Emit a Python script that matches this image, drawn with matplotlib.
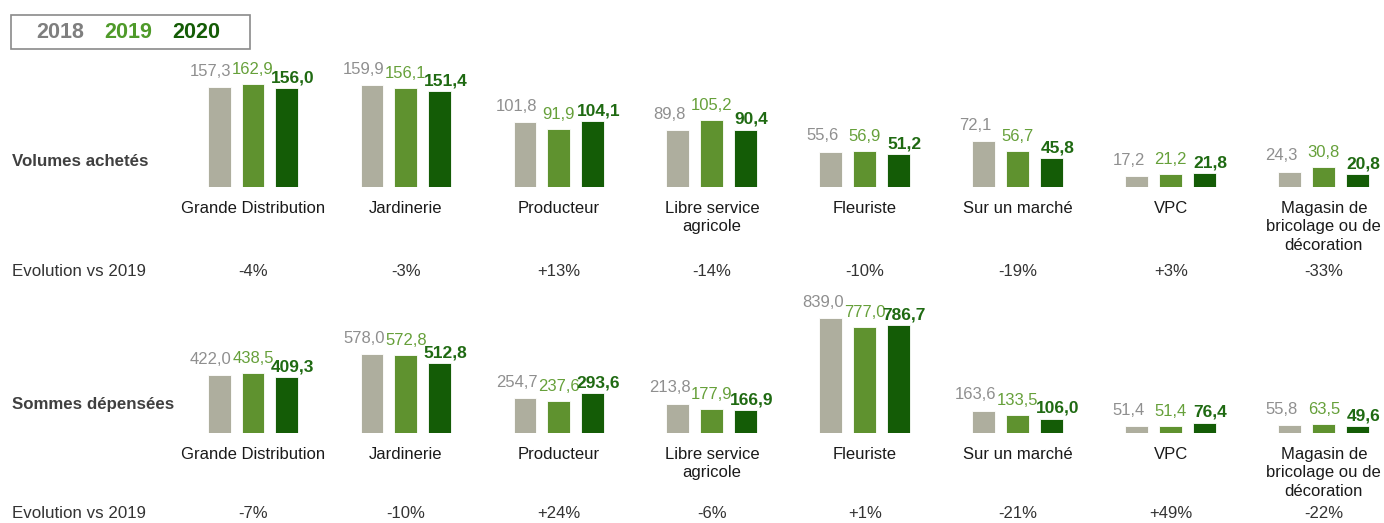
import numpy as np
import matplotlib
matplotlib.use('Agg')
import matplotlib.pyplot as plt
from matplotlib.patches import Rectangle
from matplotlib import transforms

plt.rcParams['font.family'] = ['Liberation Sans', 'DejaVu Sans']

#### Data
categories = ['Grande Distribution', 'Jardinerie', 'Producteur', 'Libre service\nagricole',
              'Fleuriste', 'Sur un marché', 'VPC', 'Magasin de\nbricolage ou de\ndécoration']
years = ['2018', '2019', '2020']

volumes_2018 = [157.3, 159.9, 101.8, 89.8, 55.6, 72.1, 17.2, 24.3]
volumes_2019 = [162.9, 156.1, 91.9, 105.2, 56.9, 56.7, 21.2, 30.8]
volumes_2020 = [156.0, 151.4, 104.1, 90.4, 51.2, 45.8, 21.8, 20.8]
evol_volumes = ['-4%', '-3%', '+13%', '-14%', '-10%', '-19%', '+3%', '-33%']

sommes_2018 = [422.0, 578.0, 254.7, 213.8, 839.0, 163.6, 51.4, 55.8]
sommes_2019 = [438.5, 572.8, 237.6, 177.9, 777.0, 133.5, 51.4, 63.5]
sommes_2020 = [409.3, 512.8, 293.6, 166.9, 786.7, 106.0, 76.4, 49.6]
evol_sommes = ['-7%', '-10%', '+24%', '-6%', '+1%', '-21%', '+49%', '-22%']

bar_colors = ['#aeae9e', '#5f922f', '#145c06']
label_colors = ['#8f8f8f', '#66a03a', '#1f6a12']
legend_colors = ['#7f7f7f', '#4f9a2a', '#145c06']

W, H = 1384, 523
fig = plt.figure(figsize=(W / 100, H / 100), dpi=100)


def fx(px):
    return px / W


def fy(py):
    return 1 - py / H


def plotRow(base_px, top_px, ymax, series, evol, evol_y, row_title, title_y):
    ax = fig.add_axes([fx(176.5), fy(base_px), fx(1385 - 176.5), (base_px - top_px) / H])
    x = np.arange(len(categories))
    step = 0.222
    width = 0.15
    offsets = [-6, 0, 4]
    rises = [6, 5, 2]
    for i, vals in enumerate(series):
        bars = ax.bar(x + (i - 1) * step, vals, width, color=bar_colors[i],
                      edgecolor='white', linewidth=0.6)
        for b, v in zip(bars, vals):
            txt = f'{v:.1f}'.replace('.', ',')
            ax.annotate(txt, (b.get_x() + b.get_width() / 2, b.get_height()),
                        xytext=(offsets[i], rises[i]), textcoords='offset points',
                        ha='center', va='bottom', color=label_colors[i],
                        fontsize=12.5 if i == 2 else 12,
                        fontweight='bold' if i == 2 else 'normal')
    ax.set_xlim(-0.5, 7.4)
    ax.set_ylim(0, ymax)
    ax.set_xticks(x)
    ax.set_xticklabels(categories, fontsize=12, color='#1a1a1a', linespacing=1.3)
    ax.tick_params(axis='x', length=0, pad=10)
    ax.set_yticks([])
    for s in ax.spines.values():
        s.set_visible(False)
    ax.patch.set_alpha(0)

    trans = transforms.blended_transform_factory(ax.transData, fig.transFigure)
    for xi, e in zip(x, evol):
        ax.text(xi, fy(evol_y), e, transform=trans, ha='center', va='center',
                fontsize=12, color='#333333')
    fig.text(fx(12), fy(evol_y), 'Evolution vs 2019', ha='left', va='center',
             fontsize=12.2, color='#333333')
    fig.text(fx(12), fy(title_y), row_title, ha='left', va='center',
             fontsize=12.2, fontweight='bold', color='#404040')
    return ax


plotRow(187, 60, 200, [volumes_2018, volumes_2019, volumes_2020],
        evol_volumes, 271, 'Volumes achetés', 162)
plotRow(433, 310, 900, [sommes_2018, sommes_2019, sommes_2020],
        evol_sommes, 514, 'Sommes dépensées', 404)

#### Legend box
fig.add_artist(Rectangle((fx(11), fy(49)), fx(239), 34 / H, transform=fig.transFigure,
                         facecolor='white', edgecolor='#8a8a8a', linewidth=1.2))
for px, yr, c in zip([36, 104, 172], years, legend_colors):
    fig.text(fx(px), fy(32), yr, ha='left', va='center', fontsize=15.5,
             fontweight='bold', color=c)

fig.savefig('out.png', dpi=100)
